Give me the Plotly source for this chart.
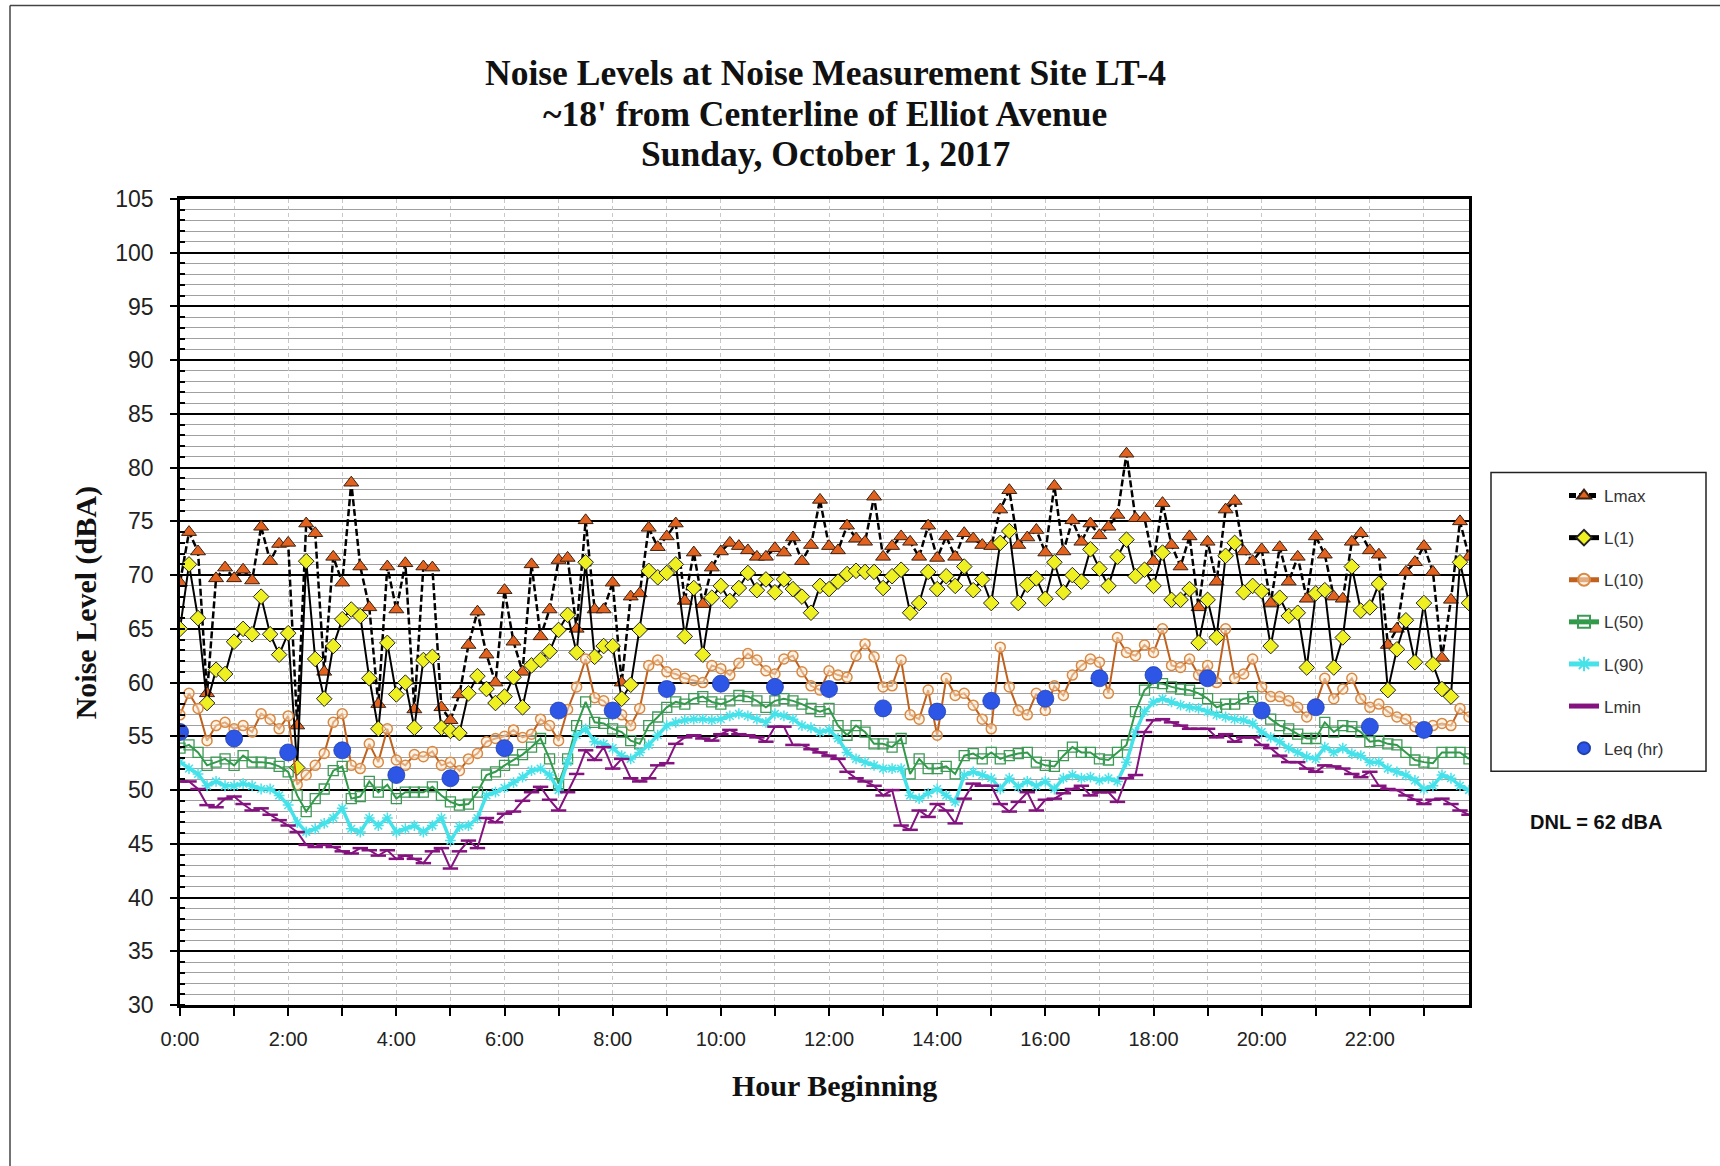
import plotly.graph_objects as go

# ---------------- data ----------------
interval_hours = [i / 6 for i in range(144)]   # 10-minute intervals, 0:00 .. 23:50
leq_hours = list(range(24))

lmax = [69.3, 74.0, 72.2, 59.0, 69.7, 70.7, 69.7, 70.5, 69.5, 74.5,
        71.3, 72.9, 73.0, 56.0, 74.8, 73.9, 61.0, 71.7, 69.3, 78.6,
        70.8, 67.0, 58.0, 70.8, 66.8, 71.1, 57.5, 70.8, 70.7, 57.7,
        56.5, 58.9, 63.5, 66.6, 62.6, 60.0,
        68.6, 63.8, 61.0, 71.0, 64.3, 66.8, 71.4, 71.6, 65.0, 75.1,
        66.8, 66.8, 69.3, 60.0, 68.0, 68.3, 74.4, 72.6, 73.6, 74.8,
        67.6, 72.1, 67.3, 70.7, 72.2, 73.0, 72.7, 72.3, 71.7, 71.7,
        72.5, 72.1, 73.5, 71.3, 72.8, 77.0,
        72.7, 72.3, 74.6, 73.4, 73.1, 77.3, 71.7, 72.7, 73.6, 73.1,
        71.7, 74.6, 71.6, 73.6, 71.7, 73.9, 73.4, 72.8, 72.7, 76.1,
        77.9, 72.8, 73.5, 74.2, 72.1, 78.3, 72.2, 75.1, 73.1, 74.8,
        73.7, 74.5, 75.6, 81.3, 75.3,
        75.3, 71.3, 76.7, 72.8, 70.8, 73.6, 67.0, 73.1, 69.4, 76.1,
        76.9, 72.2, 71.3, 72.4, 67.4, 72.6, 69.4, 71.7, 67.8, 73.6,
        71.9, 68.0, 67.8, 73.1, 73.9, 72.3, 71.9, 63.5, 65.0, 70.3,
        71.2, 72.7, 70.3, 62.3, 67.7, 75.0, 71.7]

l1 = [65.0, 71.0, 66.0, 58.1, 61.2, 60.8, 63.8, 65.0, 64.5, 68.0,
      64.5, 62.6, 64.6, 52.1, 71.3, 62.2, 58.5, 63.4, 65.9, 66.8,
      66.2, 60.4, 55.7, 63.7, 58.9, 60.0, 55.8, 62.1, 62.4, 55.8,
      55.5, 55.3, 59.0, 60.6, 59.4, 58.1,
      58.7, 60.5, 57.7, 61.6, 62.1, 62.9, 64.9, 66.3, 62.8, 71.2,
      62.4, 63.4, 63.4, 58.5, 59.8, 64.9, 70.4, 69.8, 70.2, 71.0,
      64.3, 68.8, 62.6, 67.9, 69.0, 67.6, 68.8, 70.2, 68.6, 69.6,
      68.4, 69.6, 68.7, 68.0, 66.5, 69.0,
      68.7, 69.4, 70.1, 70.4, 70.3, 70.3, 68.8, 69.9, 70.5, 66.5,
      67.4, 70.3, 68.7, 69.9, 69.0, 70.8, 68.6, 69.6, 67.4, 73.0,
      74.1, 67.4, 69.1, 69.7, 67.8, 71.2, 68.4, 70.0, 69.4, 72.4,
      70.6, 69.0, 71.7, 73.3, 69.9,
      70.5, 69.0, 72.1, 67.7, 67.7, 68.7, 63.7, 67.7, 64.2, 71.8,
      73.0, 68.4, 69.0, 68.5, 63.4, 67.9, 66.2, 66.5, 61.4, 68.3,
      68.6, 61.4, 64.2, 70.8, 66.7, 67.0, 69.2, 59.3, 63.1, 65.8,
      61.9, 67.4, 61.7, 59.4, 58.7, 71.2, 67.4]

l10 = [57.0, 59.0, 57.6, 54.6, 56.0, 56.3, 55.7, 56.0, 55.4, 57.1,
       56.6, 55.7, 56.9, 50.5, 51.4, 52.3, 53.4, 56.3, 57.1, 52.3,
       52.0, 54.3, 52.6, 55.7, 52.8, 52.3, 53.3, 53.1, 53.6, 52.3,
       52.6, 51.8, 52.9, 53.4, 54.5, 54.8,
       55.0, 55.6, 54.9, 55.2, 56.6, 56.0, 54.6, 57.5, 59.6, 62.2,
       58.6, 58.3, 57.4, 57.0, 56.0, 57.6, 61.6, 62.1, 61.0, 60.8,
       60.4, 60.2, 60.0, 61.6, 61.3, 60.7, 61.8, 62.7, 62.1, 61.1,
       60.8, 62.2, 62.5, 61.0, 59.7, 59.3,
       61.1, 60.7, 60.5, 62.5, 63.6, 62.4, 59.6, 59.7, 62.1, 57.0,
       56.6, 59.3, 55.1, 60.4, 58.8, 59.0, 57.9, 56.6, 55.7, 63.3,
       59.6, 57.4, 57.0, 59.0, 57.4, 59.7, 58.8, 60.7, 61.6, 62.2,
       61.9, 59.0, 64.2, 62.8, 62.5,
       63.5, 62.8, 65.0, 61.6, 61.4, 62.2, 60.7, 61.6, 60.0, 65.0,
       60.4, 60.8, 62.2, 59.6, 58.7, 58.7, 58.3, 57.7, 56.8, 58.0,
       60.4, 58.5, 59.4, 60.4, 58.5, 57.7, 58.0, 57.3, 56.8, 56.6,
       55.9, 55.6, 56.0, 56.2, 56.0, 57.6, 56.8]

l50 = [53.9, 54.2, 53.5, 52.3, 52.6, 52.9, 52.3, 53.2, 52.6, 52.6,
       52.5, 52.2, 51.7, 49.5, 48.0, 49.2, 50.1, 51.8, 52.2, 49.2,
       49.4, 50.8, 49.8, 50.5, 49.2, 49.8, 49.8, 49.8, 50.3, 49.5,
       48.9, 48.6, 48.7, 49.8, 51.4, 51.7,
       52.3, 52.8, 53.3, 54.0, 54.8, 52.9, 50.6, 52.9, 56.0, 58.2,
       56.3, 56.2, 55.7, 55.4, 54.6, 54.3, 56.0, 56.8, 57.7, 58.2,
       58.0, 58.5, 58.7, 58.2, 58.0, 58.3, 58.8, 58.7, 58.3, 57.7,
       58.3, 58.5, 58.3, 58.0, 57.6, 57.3,
       57.6, 56.0, 55.1, 56.0, 55.4, 54.3, 54.3, 54.0, 54.8, 51.5,
       52.9, 52.0, 52.0, 52.2, 51.5, 53.2, 53.4, 52.9, 53.5, 52.9,
       53.2, 53.4, 53.5, 52.6, 52.3, 52.2, 53.2, 54.0, 53.5, 53.5,
       52.9, 52.8, 53.5, 54.2, 57.3,
       59.3, 60.0, 59.9, 59.6, 59.4, 59.3, 59.0, 58.5, 57.7, 58.0,
       58.0, 58.5, 58.7, 57.3, 56.6, 56.0, 55.7, 55.2, 54.8, 54.8,
       56.3, 55.4, 56.0, 55.9, 55.4, 54.5, 54.6, 54.3, 54.2, 53.5,
       52.8, 52.6, 52.5, 53.5, 53.5, 53.5, 52.9]

l90 = [52.6, 52.0, 51.5, 50.4, 50.8, 50.4, 50.4, 50.6, 50.4, 50.1,
       50.1, 49.5, 48.6, 47.0, 46.1, 46.4, 46.9, 47.4, 48.3, 46.4,
       46.1, 47.4, 46.7, 47.4, 46.1, 46.4, 46.7, 46.1, 46.7, 47.4,
       45.3, 46.6, 46.7, 47.4, 49.5, 49.8,
       50.2, 50.7, 51.2, 51.8, 52.0, 51.4, 50.0, 52.6, 55.1, 55.7,
       54.5, 54.3, 53.9, 53.2, 52.9, 53.5, 54.2, 55.1, 56.0, 56.3,
       56.5, 56.6, 56.6, 56.5, 56.6, 56.9, 57.1, 56.9, 56.6, 56.3,
       57.1, 56.9, 56.6, 56.0, 55.8, 55.4,
       55.6, 54.8, 53.5, 52.9, 52.6, 52.3, 52.0, 52.0, 52.0, 49.5,
       49.2, 49.7, 50.1, 49.5, 48.9, 51.4, 51.7, 51.4, 51.1, 50.1,
       51.1, 50.3, 50.8, 50.4, 50.8, 50.1, 51.1, 51.4, 51.1, 51.2,
       50.9, 51.1, 50.8, 52.6, 55.4,
       57.3, 58.2, 58.5, 58.2, 57.9, 57.7, 57.6, 57.3, 57.0, 56.8,
       56.6, 56.5, 56.2, 55.4, 54.9, 54.5, 53.9, 53.5, 53.1, 52.9,
       54.0, 53.5, 53.9, 53.4, 53.2, 52.6, 52.6, 52.0, 51.7, 51.4,
       50.9, 50.1, 50.4, 51.4, 51.1, 50.4, 50.0]

lmin = [50.8, 50.8, 50.1, 48.6, 48.4, 49.2, 49.4, 48.7, 48.1, 48.3,
        47.7, 47.2, 46.7, 46.1, 44.9, 44.7, 44.9, 44.7, 44.3, 44.1,
        44.6, 44.4, 43.9, 44.4, 43.6, 43.9, 43.6, 43.2, 44.3, 44.6,
        42.7, 44.3, 45.3, 44.6, 47.4, 47.0,
        47.8, 48.0, 49.0, 49.8, 50.3, 49.1, 48.1, 49.8, 51.5, 53.7,
        52.8, 54.0, 52.0, 52.9, 51.1, 50.8, 51.1, 52.3, 52.5, 54.3,
        54.9, 55.1, 54.8, 54.6, 55.2, 55.6, 55.2, 55.1, 54.9, 54.5,
        55.9, 55.9, 54.2, 54.2, 53.8, 53.5,
        53.2, 52.9, 51.7, 51.1, 50.8, 50.4, 49.5, 50.0, 46.7, 46.3,
        48.1, 47.5, 48.7, 48.1, 46.9, 49.2, 50.6, 50.4, 50.4, 48.7,
        48.0, 48.9, 49.8, 48.1, 49.1, 49.2, 49.7, 50.1, 50.4, 49.5,
        49.8, 49.8, 48.9, 51.1, 51.4,
        55.4, 56.5, 56.6, 56.3, 56.0, 55.7, 55.7, 55.7, 54.9, 55.2,
        54.5, 54.9, 54.9, 54.2, 53.9, 53.2, 52.6, 52.6, 52.0, 51.7,
        52.3, 52.2, 52.0, 51.5, 51.2, 51.7, 50.4, 50.1, 50.0, 49.5,
        49.1, 48.7, 49.1, 49.2, 48.7, 48.1, 47.7]

leq = [55.4, 54.8, 53.5, 53.7, 51.4, 51.1, 53.9, 57.4, 57.4, 59.4,
       59.9, 59.6, 59.4, 57.6, 57.3, 58.3, 58.5, 60.4, 60.7, 60.4,
       57.4, 57.7, 55.9, 55.6]

x_tick_vals = list(range(0, 24, 2))
x_tick_text = [f"{h}:00" for h in x_tick_vals]

title_lines = ["Noise Levels at Noise Measurement Site LT-4",
               "~18' from Centerline of Elliot Avenue",
               "Sunday, October 1, 2017"]

# ---------------- layout geometry (pixels) ----------------
FIG_W, FIG_H = 1720, 1166
L, R, T, B = 180, 1469, 198.5, 1004.8
PW, PH = R - L, B - T


def px(x):
    return (x - L) / PW


def py(y):
    return (B - y) / PH


SERIF = "Liberation Serif, Times New Roman, serif"
SANS = "Liberation Sans, Arial, sans-serif"

fig = go.Figure()

fig.add_trace(go.Scatter(
    x=interval_hours, y=lmax, name="Lmax", mode="lines+markers",
    legendgroup="a",
    line=dict(color="black", width=2.5, dash="7px,3px"),
    marker=dict(symbol="triangle-up", size=13, color="#E2621F",
                line=dict(color="#3a2010", width=1))))

fig.add_trace(go.Scatter(
    x=interval_hours, y=l1, name="L(1)", mode="lines+markers",
    legendgroup="b",
    line=dict(color="black", width=2),
    marker=dict(symbol="diamond", size=12, color="#EEF022",
                line=dict(color="#222", width=1))))

fig.add_trace(go.Scatter(
    x=interval_hours, y=l10, name="L(10)", mode="lines+markers",
    legendgroup="c",
    line=dict(color="#C0611E", width=2),
    marker=dict(symbol="circle", size=10, color="rgba(255,235,210,0.55)",
                line=dict(color="#D88A45", width=1.5))))

fig.add_trace(go.Scatter(
    x=interval_hours, y=l50, name="L(50)", mode="lines+markers",
    legendgroup="d",
    line=dict(color="#2F9A48", width=2),
    marker=dict(symbol="square-open", size=10, color="#3C9A55",
                line=dict(width=1.3))))

fig.add_trace(go.Scatter(
    x=interval_hours, y=l90, name="L(90)", mode="lines+markers",
    legendgroup="e",
    line=dict(color="#45E2EA", width=3.5),
    marker=dict(symbol="asterisk-open", size=9, color="#45E2EA",
                line=dict(color="#45E2EA", width=1.5))))

fig.add_trace(go.Scatter(
    x=interval_hours, y=lmin, name="Lmin", mode="lines+markers",
    legendgroup="f",
    line=dict(color="#84127F", width=2),
    marker=dict(symbol="line-ew-open", size=11, color="#84127F",
                line=dict(color="#84127F", width=2.5))))

fig.add_trace(go.Scatter(
    x=leq_hours, y=leq, name="Leq (hr)", mode="markers",
    legendgroup="g",
    marker=dict(symbol="circle", size=17, color="#2D55E6",
                line=dict(color="#2040B0", width=0.8))))

# ---------------- axes ----------------
fig.update_xaxes(
    range=[0, interval_hours[-1]],
    tickmode="array", tickvals=x_tick_vals, ticktext=x_tick_text,
    tickfont=dict(family=SANS, size=20, color="#222"),
    ticks="outside", ticklen=8, tickwidth=1.5, tickcolor="black",
    ticklabelstandoff=6,
    showgrid=True, gridcolor="#c8c8c8", griddash="4px,3px", gridwidth=1,
    minor=dict(dtick=1, tick0=0, showgrid=True, gridcolor="#c8c8c8",
               griddash="4px,3px", gridwidth=1,
               ticks="outside", ticklen=8, tickwidth=1.5, tickcolor="black"),
    showline=True, linecolor="black", linewidth=2.5, mirror=True,
    zeroline=False,
)

fig.update_yaxes(
    range=[30, 105], dtick=5, tick0=30,
    tickfont=dict(family=SANS, size=23, color="#222"),
    ticks="outside", ticklen=7, tickwidth=1.5, tickcolor="black",
    ticklabelstandoff=12,
    showgrid=True, gridcolor="black", gridwidth=2.2,
    minor=dict(dtick=1, showgrid=True, gridcolor="#a0a0a0", gridwidth=1,
               ticks="inside", ticklen=5, tickcolor="black"),
    showline=True, linecolor="black", linewidth=2.5, mirror=True,
    zeroline=False,
)

# ---------------- annotations ----------------
annotations = []
for line_text, yc in zip(title_lines, [72, 113, 153.5]):
    annotations.append(dict(
        text=f"<b>{line_text}</b>", x=px(825), y=py(yc),
        xref="paper", yref="paper", xanchor="center", yanchor="middle",
        showarrow=False, font=dict(family=SERIF, size=35.5, color="#111")))

annotations.append(dict(
    text="<b>Noise Level (dBA)</b>", x=px(86), y=py(603),
    xref="paper", yref="paper", xanchor="center", yanchor="middle",
    textangle=-90, showarrow=False,
    font=dict(family=SERIF, size=30, color="#111")))

annotations.append(dict(
    text="<b>Hour Beginning</b>", x=px(834), y=py(1085),
    xref="paper", yref="paper", xanchor="center", yanchor="middle",
    showarrow=False, font=dict(family=SERIF, size=30, color="#111")))

annotations.append(dict(
    text="<b>DNL = 62 dBA</b>", x=px(1596), y=py(822),
    xref="paper", yref="paper", xanchor="center", yanchor="middle",
    showarrow=False, font=dict(family=SANS, size=20, color="#111")))

# ---------------- shapes (frame + legend box) ----------------
shapes = [
    # outer page frame (top and left edges)
    dict(type="line", xref="paper", yref="paper",
         x0=px(10), x1=px(1720), y0=py(5), y1=py(5),
         line=dict(color="#444", width=1.5)),
    dict(type="line", xref="paper", yref="paper",
         x0=px(10), x1=px(10), y0=py(5), y1=py(1166),
         line=dict(color="#444", width=1.5)),
    # legend box
    dict(type="rect", xref="paper", yref="paper",
         x0=px(1491), x1=px(1706), y0=py(472), y1=py(771),
         line=dict(color="#222", width=1.5), fillcolor="rgba(0,0,0,0)"),
]

fig.update_layout(
    width=FIG_W, height=FIG_H,
    margin=dict(l=L, r=FIG_W - R, t=T, b=FIG_H - B, pad=0),
    paper_bgcolor="white", plot_bgcolor="white",
    showlegend=True,
    legend=dict(
        xref="container", yref="container",
        x=1564 / FIG_W, y=1 - 478 / FIG_H, xanchor="left", yanchor="top",
        traceorder="grouped", tracegroupgap=17,
        font=dict(family=SANS, size=17, color="#333"),
        bgcolor="rgba(0,0,0,0)", borderwidth=0,
        itemsizing="constant",
    ),
    annotations=annotations,
    shapes=shapes,
)

fig.write_html(
    "out.html",
    config={"displayModeBar": False},
    post_script="document.body.style.margin='0';document.body.style.overflow='hidden';",
)
